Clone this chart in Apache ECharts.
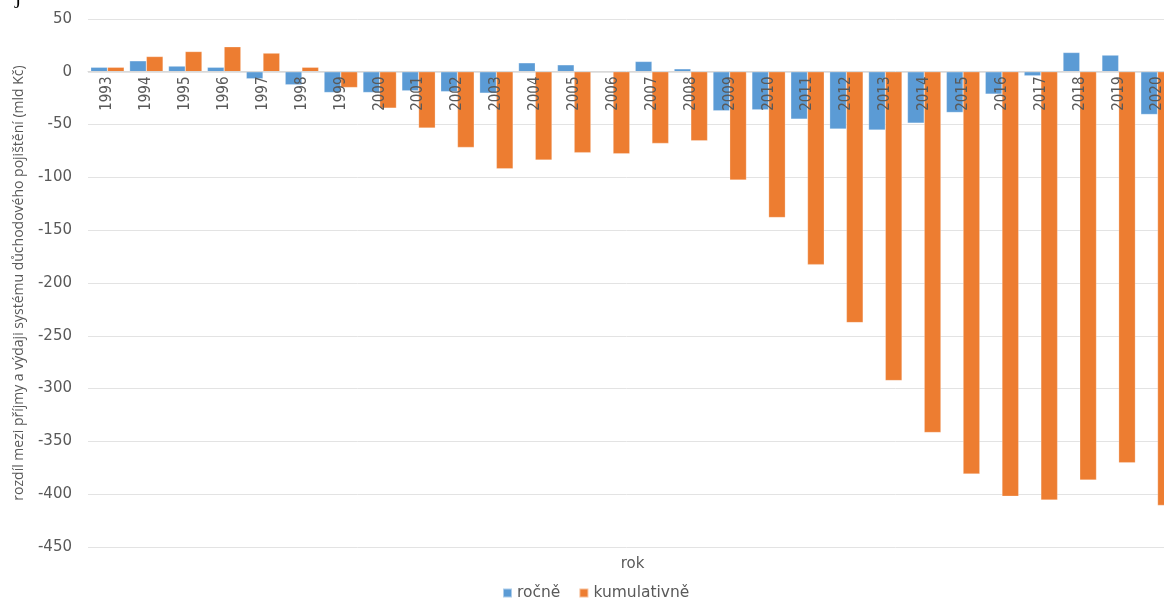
<!DOCTYPE html>
<html>
<head>
<meta charset="utf-8">
<script src="https://cdn.jsdelivr.net/npm/echarts@6/dist/echarts.min.js"></script>
<style>
  html, body { margin: 0; padding: 0; background: #fff; }
  #chart { width: 1164px; height: 599px; }
</style>
</head>
<body>
<div id="chart"></div>
<script>
// roky
var years = ['1993', '1994', '1995', '1996', '1997', '1998', '1999', '2000', '2001', '2002',
  '2003', '2004', '2005', '2006', '2007', '2008', '2009', '2010', '2011', '2012',
  '2013', '2014', '2015', '2016', '2017', '2018', '2019', '2020']

// ročně (mld Kč)
var rocne = [4.3, 10.4, 5.4, 4.3, -6.6, -12.3, -19.6, -19.6, -18, -18.8,
  -20.2, 8.5, 6.6, 0.5, 9.8, 2.8, -36.9, -36, -44.8, -54.2,
  -55.2, -48.6, -38.5, -21.1, -3.8, 18.3, 15.8, -40.4]

// kumulativně (mld Kč)
var kumulativne = [4.3, 14.5, 19.2, 23.7, 17.7, 4.3, -14.9, -34.4, -53.3, -71.6,
  -91.8, -83.6, -76.6, -77.6, -67.8, -65.3, -102.5, -138, -182.6, -237.5,
  -292.4, -341.6, -380.8, -402, -405.5, -386.6, -370.2, -410.6]

var seriesNames = ['ročně', 'kumulativně']
var yTicks = { min: -450, max: 50, interval: 50 }

const chart = echarts.init(document.getElementById('chart'))
var option = {
  animation: false,
  color: ['#5B9BD5', '#ED7D31'],
  grid: {
    left: 88,
    right: -13,
    top: 19,
    bottom: 52,
    containLabel: false,
    outerBoundsMode: 'none'
  },
  legend: {
    data: seriesNames,
    left: 497,
    top: 580,
    icon: 'rect',
    itemWidth: 9,
    itemHeight: 9,
    itemGap: 18,
    textStyle: { fontFamily: 'DejaVu Sans', fontSize: 15.5, color: '#595959' }
  },
  xAxis: {
    type: 'category',
    data: years,
    position: 'bottom',
    // osa leží na nule, ne dole
    offset: -475.5,
    z: 10,
    name: 'rok',
    nameLocation: 'middle',
    nameGap: 485,
    nameTextStyle: { fontFamily: 'DejaVu Sans', fontSize: 15, color: '#595959' },
    axisLine: { onZero: false, lineStyle: { color: '#d9d9d9' } },
    axisTick: { show: false },
    axisLabel: {
      rotate: 90,
      margin: 5,
      fontFamily: 'DejaVu Sans Condensed, Liberation Sans',
      fontSize: 15,
      color: '#595959'
    }
  },
  yAxis: {
    type: 'value',
    min: yTicks.min,
    max: yTicks.max,
    interval: yTicks.interval,
    name: 'rozdíl mezi příjmy a výdaji systému důchodového pojištění (mld Kč)',
    nameLocation: 'middle',
    nameGap: 62,
    nameTextStyle: { fontFamily: 'Open Sans', fontSize: 14, color: '#595959' },
    axisLine: { show: false },
    axisTick: { show: false },
    axisLabel: { margin: 16, fontFamily: 'DejaVu Sans', fontSize: 15, color: '#595959' },
    splitLine: { lineStyle: { color: '#e3e3e3', width: 1 } }
  },
  graphic: [
    {
      type: 'text',
      left: 15,
      top: -14,
      style: { text: 'j', font: '22px Liberation Serif', fill: '#000' }
    }
  ],
  series: [
    {
      name: seriesNames[0],
      type: 'bar',
      barGap: '0%',
      barCategoryGap: '14%',
      itemStyle: { borderColor: 'rgba(255,255,255,0.5)', borderWidth: 0.5 },
      data: rocne
    },
    {
      name: seriesNames[1],
      type: 'bar',
      barGap: '0%',
      barCategoryGap: '14%',
      itemStyle: { borderColor: 'rgba(255,255,255,0.5)', borderWidth: 0.5 },
      data: kumulativne
    }
  ]
}

chart.setOption(option)
</script>
</body>
</html>
